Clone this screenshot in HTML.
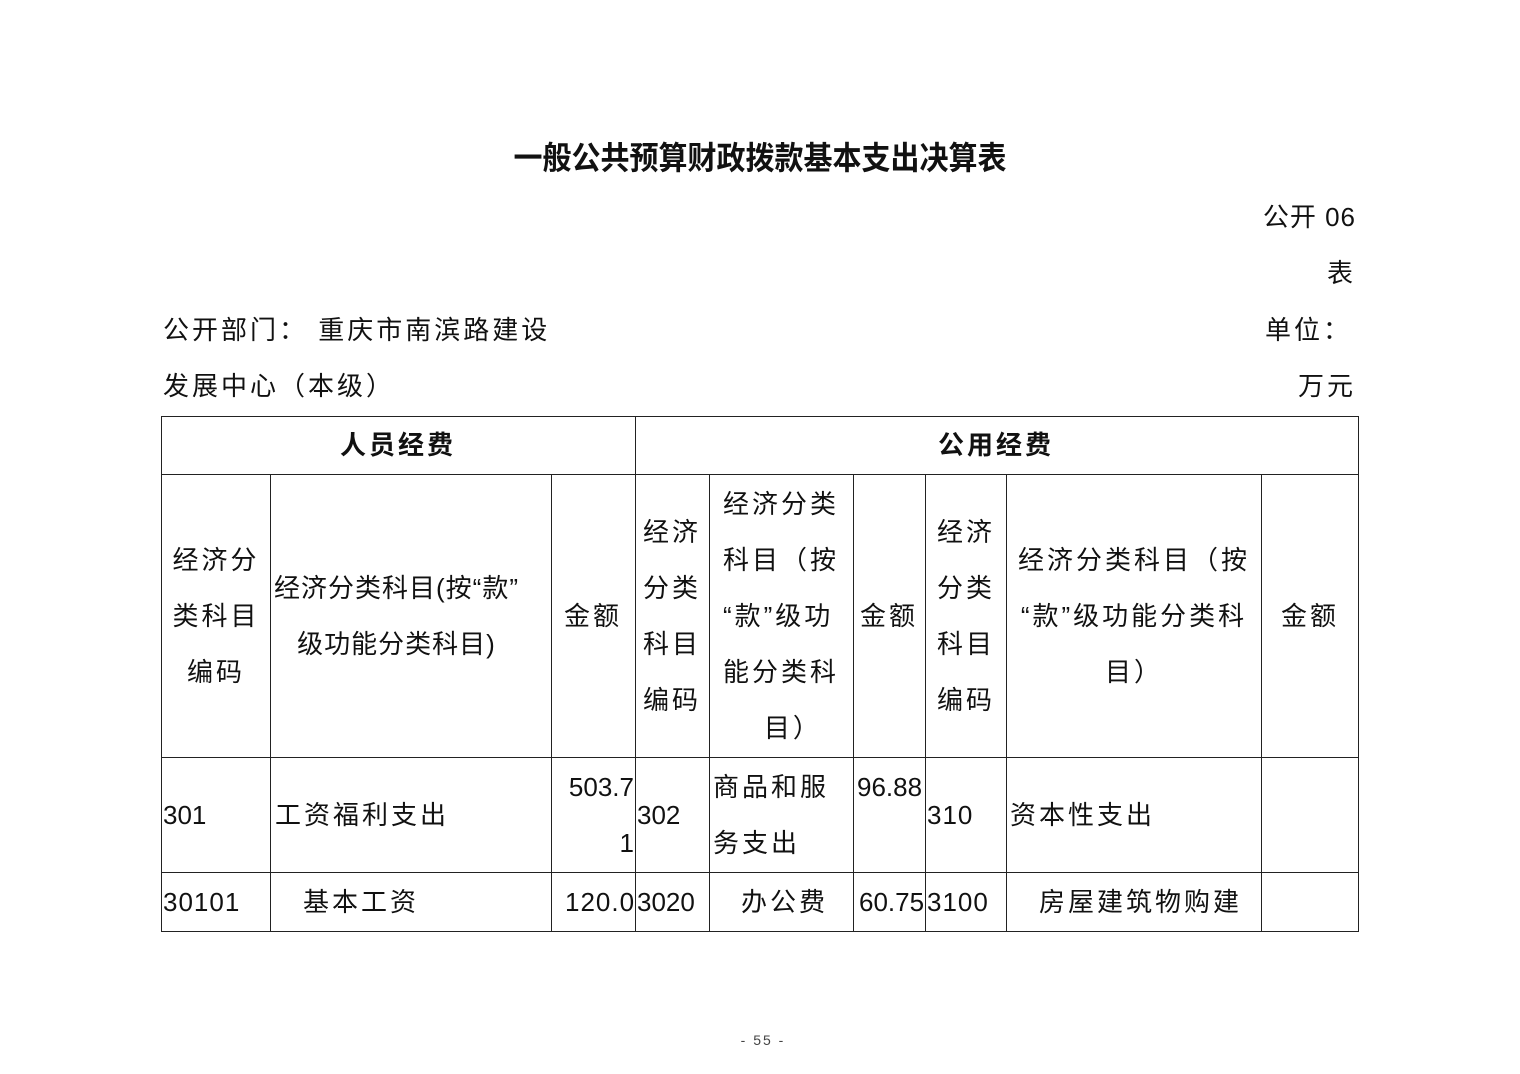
<!DOCTYPE html>
<html><head><meta charset="utf-8"><style>
body{margin:0;width:1520px;height:1074px;background:#fff;position:relative;overflow:hidden;font-family:"Liberation Sans","Noto Sans CJK SC",sans-serif;color:#111}
.t{position:absolute;font-size:26px;line-height:36px;white-space:nowrap;letter-spacing:3px}
.c{text-align:center;transform:translateX(-50%)}
.r{text-align:right}
.h{position:absolute;height:1px;background:#222}
.v{position:absolute;width:1px;background:#222}
.b{font-weight:bold}
</style></head><body>
<div class="t c b" style="left:760px;top:141px;font-size:29px;letter-spacing:0;transform:translateX(-50%) scaleY(1.1)">一般公共预算财政拨款基本支出决算表</div>
<div class="t r" style="right:164px;top:199px;letter-spacing:1px">公开 06</div>
<div class="t r" style="right:164px;top:255px">表</div>
<div class="t" style="left:163px;top:312px">公开部门： 重庆市南滨路建设</div>
<div class="t r" style="right:168px;top:312px">单位：</div>
<div class="t" style="left:163px;top:368px">发展中心（本级）</div>
<div class="t r" style="right:164px;top:368px">万元</div>

<div class="h" style="left:161px;width:1198px;top:416px"></div>
<div class="h" style="left:161px;width:1198px;top:474px"></div>
<div class="h" style="left:161px;width:1198px;top:757px"></div>
<div class="h" style="left:161px;width:1198px;top:872px"></div>
<div class="h" style="left:161px;width:1198px;top:931px"></div>
<div class="v" style="left:161px;top:416px;height:516px"></div>
<div class="v" style="left:635px;top:416px;height:516px"></div>
<div class="v" style="left:1358px;top:416px;height:516px"></div>
<div class="v" style="left:270px;top:474px;height:458px"></div>
<div class="v" style="left:551px;top:474px;height:458px"></div>
<div class="v" style="left:709px;top:474px;height:458px"></div>
<div class="v" style="left:853px;top:474px;height:458px"></div>
<div class="v" style="left:925px;top:474px;height:458px"></div>
<div class="v" style="left:1006px;top:474px;height:458px"></div>
<div class="v" style="left:1261px;top:474px;height:458px"></div>

<div class="t c b" style="left:398px;top:427px">人员经费</div>
<div class="t c b" style="left:996px;top:427px">公用经费</div>

<div class="t c" style="left:216px;top:532px;line-height:56px">经济分<br>类科目<br>编码</div>
<div class="t" style="left:274px;top:560px;line-height:56px;letter-spacing:1px;text-align:center">经济分类科目(按“款”<br>级功能分类科目)</div>
<div class="t c" style="left:593px;top:598px">金额</div>
<div class="t c" style="left:672px;top:504px;line-height:56px">经济<br>分类<br>科目<br>编码</div>
<div class="t c" style="left:781px;top:476px;line-height:56px;text-align:left">经济分类<br>科目（按<br>“款”级功<br>能分类科<br>&nbsp;&nbsp;&nbsp;&nbsp;目）</div>
<div class="t c" style="left:889px;top:598px">金额</div>
<div class="t c" style="left:966px;top:504px;line-height:56px">经济<br>分类<br>科目<br>编码</div>
<div class="t c" style="left:1134px;top:532px;line-height:56px">经济分类科目（按<br>“款”级功能分类科<br>目）</div>
<div class="t c" style="left:1310px;top:598px">金额</div>

<div class="t" style="left:163px;top:797px;letter-spacing:0">301</div>
<div class="t" style="left:275px;top:797px">工资福利支出</div>
<div class="t r" style="right:886px;top:759px;line-height:56px;letter-spacing:0">503.7<br>1</div>
<div class="t" style="left:637px;top:797px;letter-spacing:0">302</div>
<div class="t" style="left:713px;top:759px;line-height:56px">商品和服<br>务支出</div>
<div class="t" style="left:857px;top:769px;letter-spacing:0">96.88</div>
<div class="t" style="left:927px;top:797px;letter-spacing:1px">310</div>
<div class="t" style="left:1010px;top:797px">资本性支出</div>

<div class="t" style="left:163px;top:884px;letter-spacing:1px">30101</div>
<div class="t" style="left:303px;top:884px">基本工资</div>
<div class="t" style="left:565px;top:884px;letter-spacing:1px">120.0</div>
<div class="t" style="left:637px;top:884px;letter-spacing:0">3020</div>
<div class="t" style="left:741px;top:884px">办公费</div>
<div class="t" style="left:859px;top:884px;letter-spacing:0">60.75</div>
<div class="t" style="left:927px;top:884px;letter-spacing:1px">3100</div>
<div class="t" style="left:1039px;top:884px">房屋建筑物购建</div>

<div class="t c" style="left:763px;top:1030px;font-size:14px;line-height:20px;letter-spacing:2px;color:#444">- 55 -</div>
</body></html>
